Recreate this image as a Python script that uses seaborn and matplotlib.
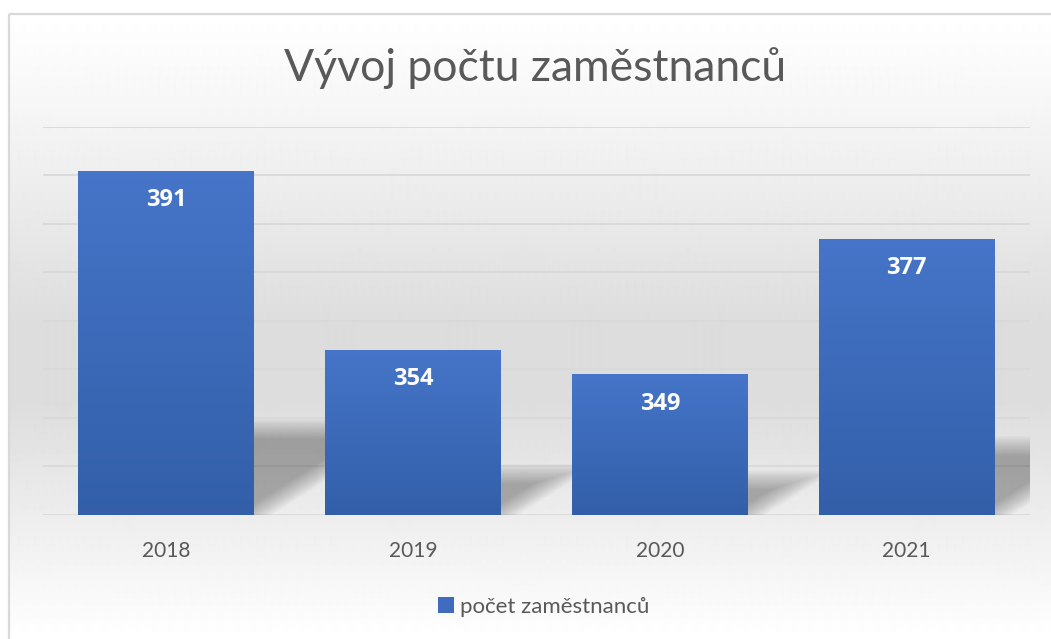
import numpy as np
import pandas as pd
import matplotlib
matplotlib.use("Agg")
import matplotlib.pyplot as plt
import seaborn as sns
from matplotlib.colors import LinearSegmentedColormap
from matplotlib.patches import Patch, Polygon, Rectangle

# data
years = ["2018", "2019", "2020", "2021"]
counts = [391, 354, 349, 377]
series_name = "počet zaměstnanců"
title = "Vývoj počtu zaměstnanců"

y_min, y_max, y_step = 320, 400, 10

sns.set_theme(style="white")
plt.rcParams["font.family"] = ["Lato", "DejaVu Sans"]

W, H = 1051, 639
fig = plt.figure(figsize=(W / 100, H / 100), dpi=100)

# chart background: vertical light grey gradient inside a thin border
bg = fig.add_axes([0, 0, 1, 1], zorder=-10)
rows = np.arange(H)
t = np.clip((rows - 13) / (H - 13), 0, 1)
shade = np.interp(t, [0, 0.15, 0.5, 0.62, 0.85, 1.0],
                  [1.0, 0.965, 0.865, 0.865, 0.945, 1.0])
shade[rows < 13] = 1.0
img = np.repeat(shade[:, None], 2, axis=1)
bg.imshow(img, cmap="gray", vmin=0, vmax=1, aspect="auto",
          extent=(0, W, H, 0), interpolation="bilinear")
bg.add_patch(Rectangle((0, 0), 9, H, fc="white", ec="none"))
bg.add_patch(Rectangle((9, 14), W, H, fill=False, ec="#d9d9d9", lw=1.6))
bg.set_xlim(0, W)
bg.set_ylim(H, 0)
bg.axis("off")

ax = fig.add_axes([43 / W, 1 - 515 / H, (1030 - 43) / W, (515 - 127) / H])
ax.patch.set_alpha(0)

df = pd.DataFrame({"rok": years, "pocet": counts})
sns.barplot(data=df, x="rok", y="pocet", color="#4472c4", width=0.713,
            saturation=1, edgecolor="none", linewidth=0, ax=ax, zorder=3)

ax.set_xlim(-0.5, len(years) - 0.5)
ax.set_ylim(y_min, y_max)
ax.set_yticks(np.arange(y_min, y_max + 1, y_step))
ax.yaxis.grid(True, color="#d9d9d9", lw=1.3, zorder=0)
ax.set_axisbelow(True)
for s in ax.spines.values():
    s.set_visible(False)
ax.tick_params(axis="y", left=False, labelleft=False)
ax.tick_params(axis="x", bottom=False, pad=13, labelsize=15, labelcolor="#595959")
ax.set_xlabel("")
ax.set_ylabel("")

cmap = LinearSegmentedColormap.from_list("bar", ["#335fa9", "#4675c9"])
grad = np.linspace(0, 1, 256)[:, None]
for p in list(ax.patches):
    x0, w, top = p.get_x(), p.get_width(), p.get_height()
    # bar gradient, clipped to the bar
    im = ax.imshow(grad, cmap=cmap, aspect="auto", origin="lower",
                   extent=(x0, x0 + w, y_min, top), zorder=4)
    im.set_clip_path(p)
    # soft perspective shadow behind the bar
    sh = 0.25 * (top - y_min)
    dx = 0.031 * sh
    n = 16
    for k in range(n):
        off = (k / (n - 1) - 0.5) * 4.0
        yt = y_min + sh - off
        xr = x0 + w + dx * (yt - y_min) / sh - off * 0.035
        poly = Polygon([(x0, y_min), (x0 + w - off * 0.035, y_min),
                        (xr, yt), (x0 + dx * (yt - y_min) / sh, yt)],
                       closed=True, fc="black", ec="none", alpha=0.018, zorder=1)
        ax.add_patch(poly)
    ax.annotate(f"{int(round(top))}", (x0 + w / 2, top), xytext=(0, -21),
                textcoords="offset points", ha="center", va="center",
                color="white", fontsize=17, fontweight="bold",
                family=["Open Sans", "DejaVu Sans"], zorder=6)

ax.set_xlim(-0.5, len(years) - 0.5)
ax.set_ylim(y_min, y_max)

fig.text(535 / W, 1 - 68 / H, title, ha="center", va="center",
         fontsize=32, fontweight="normal", color="#595959")

handle = Patch(facecolor="#3f6cbe", edgecolor="none")
fig.legend(handles=[handle], labels=[series_name], loc="center",
           bbox_to_anchor=(544 / W, 1 - 607 / H), frameon=False,
           handlelength=0.7, handleheight=0.7, handletextpad=0.3,
           prop={"size": 16}, labelcolor="#595959")

fig.savefig("out.png", dpi=100)
